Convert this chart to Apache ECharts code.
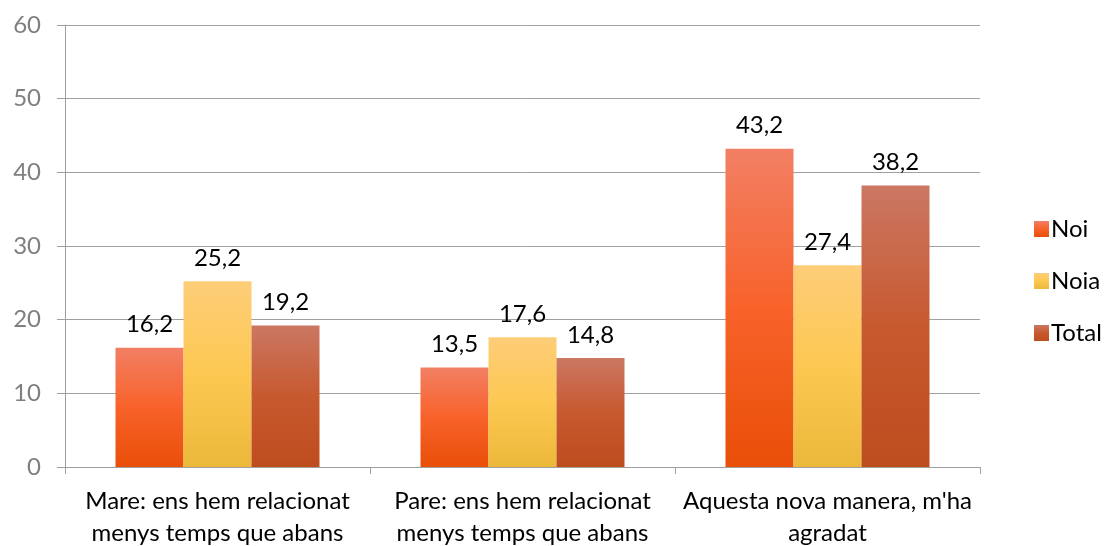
<!DOCTYPE html>
<html><head><meta charset="utf-8">
<script src="https://cdn.jsdelivr.net/npm/echarts@6/dist/echarts.min.js"></script>
<style>html,body{margin:0;padding:0;background:#fff}#c{width:1105px;height:546px}</style>
</head><body><div id="c"></div>
<script>
const categories = ["Mare: ens hem relacionat\nmenys temps que abans", "Pare: ens hem relacionat\nmenys temps que abans", "Aquesta nova manera, m'ha\nagradat"];
const noi = [16.2, 13.5, 43.2];
const noia = [25.2, 17.6, 27.4];
const total = [19.2, 14.8, 38.2];
const yTicks = {min: 0, max: 60, interval: 10};

const FONT = 'Lato, "Open Sans", sans-serif';
function grad(top, mid, bot) {
  return new echarts.graphic.LinearGradient(0, 0, 0, 1, [
    {offset: 0, color: top}, {offset: 0.5, color: mid}, {offset: 1, color: bot}
  ]);
}
const colors = {
  Noi: grad('#F27F64', '#F8622A', '#E94F08'),
  Noia: grad('#FDCD78', '#FDC851', '#ECB83A'),
  Total: grad('#CB7763', '#C7592F', '#BE4D1E')
};
const label = {show: true, position: 'top', distance: 11, color: '#000', fontSize: 24, fontFamily: FONT,
  formatter: p => String(p.value).replace('.', ',')};
function s(name, data) {
  return {name, type: 'bar', data, barWidth: 68, barGap: '0%', itemStyle: {color: colors[name]}, label};
}
const chart = echarts.init(document.getElementById('c'));
chart.setOption({
  animation: false,
  textStyle: {fontFamily: FONT},
  grid: {left: 65, right: 125, top: 25, bottom: 79, outerBoundsMode: 'none', containLabel: false},
  legend: {orient: 'vertical', left: 1029, top: 212, itemWidth: 15, itemHeight: 16, itemGap: 28,
    icon: 'rect', textStyle: {fontSize: 24, color: '#000', fontFamily: FONT, padding: [0, 0, 0, -3]},
    data: ['Noi', 'Noia', 'Total']},
  xAxis: {type: 'category', data: categories,
    axisLine: {lineStyle: {color: '#A0A0A0', width: 1}},
    axisTick: {show: true, length: 7, lineStyle: {color: '#A0A0A0'}},
    axisLabel: {color: '#000', fontSize: 24, lineHeight: 32, margin: 18, interval: 0, fontFamily: FONT}},
  yAxis: {type: 'value', min: yTicks.min, max: yTicks.max, interval: yTicks.interval,
    axisLine: {show: true, lineStyle: {color: '#A0A0A0'}},
    axisTick: {show: true, length: 8, lineStyle: {color: '#A0A0A0'}},
    splitLine: {lineStyle: {color: '#A0A0A0'}},
    axisLabel: {color: '#7F7F7F', fontSize: 24, margin: 24, fontFamily: FONT}},
  series: [s('Noi', noi), s('Noia', noia), s('Total', total)]
});
</script></body></html>
